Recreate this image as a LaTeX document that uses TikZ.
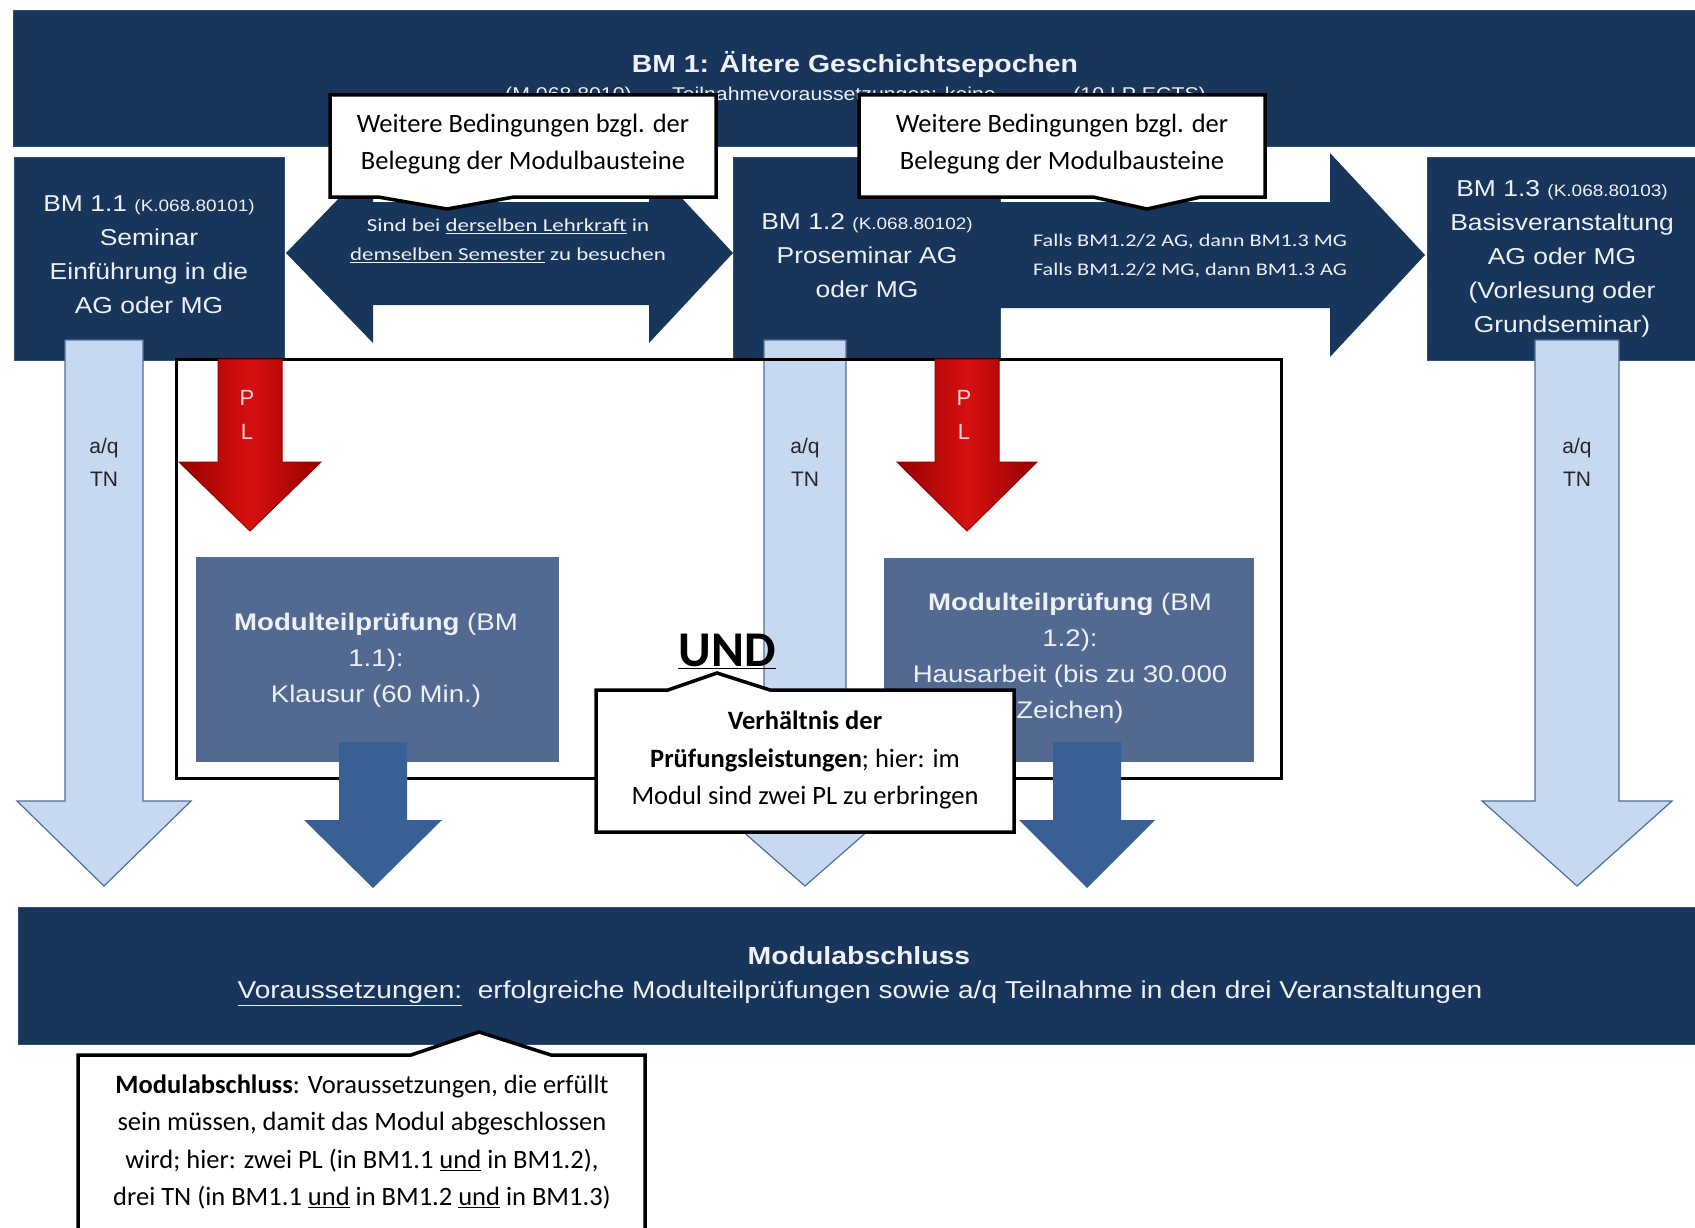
\documentclass[tikz,border=0pt]{standalone}
\usepackage{fontspec}
\setmainfont{Liberation Sans}
\newfontfamily\arw[FakeStretch=1.15]{Liberation Sans}
\newfontfamily\calw[FakeStretch=1.25]{Carlito}
\newfontfamily\calfont{Carlito}
\definecolor{navy}{RGB}{24,54,92}
\definecolor{navyedge}{RGB}{50,78,115}
\definecolor{mtpc}{RGB}{82,106,145}
\definecolor{dkarrc}{RGB}{56,96,148}
\definecolor{lightb}{RGB}{198,217,241}
\definecolor{lbedge}{RGB}{79,109,158}
\definecolor{redarr}{RGB}{215,16,16}
\definecolor{reddark}{RGB}{150,0,0}
\definecolor{softw}{RGB}{238,240,244}
\definecolor{plpink}{RGB}{245,215,215}
\newcommand{\DownArr}[7]{\path[#1] ({#2-#3},#5) -- ({#2+#3},#5) -- ({#2+#3},#6) -- ({#2+#4},#6) -- (#2,#7) -- ({#2-#4},#6) -- ({#2-#3},#6) -- cycle;}
\tikzset{
  navybox/.style={fill=navy, draw=navyedge, line width=1pt, inner sep=0pt},
  mtpbox/.style={fill=mtpc, inner sep=0pt, text=softw, align=center,
    font={\arw\fontsize{24}{36}\selectfont}},
  bmtxt/.style={text=softw, align=center, font={\arw\fontsize{23}{34}\selectfont}},
  subtxt/.style={text=softw, inner sep=0pt, font={\arw\fontsize{18.5}{20}\selectfont}},
  lbarrow/.style={fill=lightb, draw=lbedge, line width=1.2pt},
  redarrow/.style={left color=reddark, right color=reddark, middle color=redarr, draw=reddark, line width=1pt},
  dkarrow/.style={fill=dkarrc},
  callout/.style={fill=white, draw=black, line width=3.5pt, line join=miter},
  calltxt/.style={inner sep=0pt, align=center, font={\calfont\fontsize{26.5}{37.5}\selectfont}},
  arrtxt/.style={inner sep=0pt, align=center, text=softw, font={\calw\fontsize{18.3}{29}\selectfont}},
  tntxt/.style={inner sep=0pt, align=center, text=black!85, font={\fontsize{21}{33}\selectfont}},
  pltxt/.style={inner sep=0pt, text=plpink, font={\fontsize{22}{22}\selectfont}},
  frame/.style={draw=black, line width=3pt, inner sep=0pt}
}
\begin{document}
\begin{tikzpicture}[x=1pt,y=-1pt]
\useasboundingbox (0,0) rectangle (1695,1228);
\clip (0,0) rectangle (1695,1228);
\fill[white] (0,0) rectangle (1695,1228);

% top banner
\node[navybox, minimum width=1682pt, minimum height=136pt] (banner) at (854,79) {};
\node[text=softw, inner sep=0pt, font={\arw\fontsize{24.7}{30}\selectfont\bfseries}] (title) at (855,65) {BM 1: Ältere Geschichtsepochen};
\node[subtxt, anchor=base west] (sub1) at (505,101) {(M.068.8010)};
\node[subtxt, anchor=base west] (sub2) at (672,101) {Teilnahmevoraussetzungen: keine};
\node[subtxt, anchor=base east] (sub3) at (1206,101) {(10 LP ECTS)};

% course boxes
\node[navybox, minimum width=270pt, minimum height=202pt] (bm11) at (149,259) {};
\node[bmtxt] (bm11t) at (149,255) {BM 1.1 {\fontsize{16.5}{34}\selectfont(K.068.80101)}\\Seminar\\Einführung in die\\AG oder MG};
\node[navybox, minimum width=267pt, minimum height=202pt] (bm12) at (866.5,259) {};
\node[bmtxt] (bm12t) at (867,256) {BM 1.2 {\fontsize{16.5}{34}\selectfont(K.068.80102)}\\Proseminar AG\\oder MG};
\node[navybox, minimum width=268pt, minimum height=202pt] (bm13) at (1561,259) {};
\node[bmtxt] (bm13t) at (1562,259) {BM 1.3 {\fontsize{16.5}{34}\selectfont(K.068.80103)}\\Basisveranstaltung\\AG oder MG\\(Vorlesung oder\\Grundseminar)};

% double arrow between BM 1.1 and BM 1.2
\path[fill=navy] (286,253) -- (373,163) -- (373,202) -- (649,202) -- (649,163) -- (733,253) -- (649,343) -- (649,305) -- (373,305) -- (373,343) -- cycle;
\node[arrtxt] (dbltxt) at (508,241) {Sind bei \underline{derselben Lehrkraft} in\\\underline{demselben Semester} zu besuchen};

% arrow BM 1.2 -> BM 1.3
\path[fill=navy] (995,202) -- (1330,202) -- (1330,153) -- (1425,255) -- (1330,357) -- (1330,308) -- (995,308) -- cycle;
\node[arrtxt, font={\calw\fontsize{17.8}{29}\selectfont}] (rtxt) at (1190,256) {Falls BM1.2/2 AG, dann BM1.3 MG\\Falls BM1.2/2 MG, dann BM1.3 AG};

% light blue a/q TN arrows
\DownArr{lbarrow}{104}{39}{87}{340}{801}{886}
\DownArr{lbarrow}{805}{41}{97}{340}{801}{886}
\DownArr{lbarrow}{1577}{42}{95}{340}{801}{886}
\node[tntxt] (tn1) at (104,462) {a/q\\TN};
\node[tntxt] (tn2) at (805,462) {a/q\\TN};
\node[tntxt] (tn3) at (1577,462) {a/q\\TN};

% frame
\node[frame, minimum width=1105pt, minimum height=419pt] (frame) at (728.5,568.5) {};

% exam boxes
\node[mtpbox, minimum width=363pt, minimum height=205pt] (mtp1) at (377.5,659.5) {};
\node[mtpbox] (mtp1t) at (376,660) {\textbf{Modulteilprüfung} (BM\\1.1):\\Klausur (60 Min.)};
\node[mtpbox, minimum width=370pt, minimum height=204pt] (mtp2) at (1069,660) {};
\node[mtpbox] (mtp2t) at (1070,658) {\textbf{Modulteilprüfung} (BM\\1.2):\\Hausarbeit (bis zu 30.000\\Zeichen)};

% red PL arrows
\DownArr{redarrow}{250}{32}{71}{359}{462}{531}
\DownArr{redarrow}{967}{32}{70}{359}{462}{531}
\node[pltxt] (p1) at (247,398) {P};
\node[pltxt] (l1) at (247,432) {L};
\node[pltxt] (p2) at (964,398) {P};
\node[pltxt] (l2) at (964,432) {L};

% dark blue arrows
\DownArr{dkarrow}{373}{34}{69}{742}{820}{888}
\DownArr{dkarrow}{1087}{34}{68}{742}{820}{888}

% bottom banner
\node[navybox, minimum width=1677pt, minimum height=137pt] (abschluss) at (856.5,975.5) {};
\node[text=softw, inner sep=0pt, font={\arw\fontsize{24.7}{30}\selectfont\bfseries}] (abt) at (859,956) {Modulabschluss};
\node[text=softw, inner sep=0pt, font={\arw\fontsize{24.4}{30}\selectfont}] (abv) at (860,993) {\underline{Voraussetzungen:}\ \ erfolgreiche Modulteilprüfungen sowie a/q Teilnahme in den drei Veranstaltungen};

% UND
\node[inner sep=0pt, anchor=base, font={\calfont\fontsize{50}{50}\selectfont\bfseries}] (und) at (727,666) {\underline{UND}};

% callouts
\path[callout] (330,95) -- (716,95) -- (716,197) -- (514,197) -- (447,209) -- (378,197) -- (330,197) -- cycle;
\node[calltxt] (c1) at (523,144) {Weitere Bedingungen bzgl. der\\Belegung der Modulbausteine};
\path[callout] (859,95) -- (1265,95) -- (1265,197) -- (1201,197) -- (1147,209) -- (1093,197) -- (859,197) -- cycle;
\node[calltxt] (c2) at (1062,144) {Weitere Bedingungen bzgl. der\\Belegung der Modulbausteine};
\path[callout] (596,690) -- (668,690) -- (717,673) -- (770,690) -- (1014,690) -- (1014,832) -- (596,832) -- cycle;
\node[calltxt] (c3) at (805,760) {\textbf{Verhältnis der}\\\textbf{Prüfungsleistungen}; hier: im\\Modul sind zwei PL zu erbringen};
\path[callout] (78,1055) -- (411,1055) -- (479,1032) -- (551,1055) -- (645,1055) -- (645,1260) -- (78,1260) -- cycle;
\node[calltxt] (c4) at (362,1142) {\textbf{Modulabschluss}: Voraussetzungen, die erfüllt\\sein müssen, damit das Modul abgeschlossen\\wird; hier: zwei PL (in BM1.1 \underline{und} in BM1.2),\\drei TN (in BM1.1 \underline{und} in BM1.2 \underline{und} in BM1.3)};
\end{tikzpicture}
\end{document}
